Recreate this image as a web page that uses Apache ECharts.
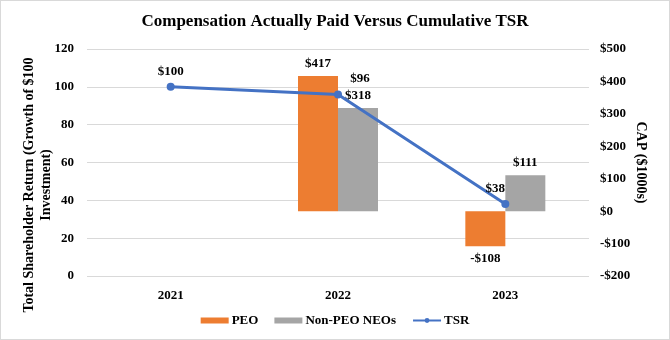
<!DOCTYPE html>
<html><head><meta charset="utf-8">
<script src="https://cdn.jsdelivr.net/npm/echarts@6/dist/echarts.min.js"></script>
<style>html,body{margin:0;padding:0;background:#fff}#c{width:670px;height:340px;box-sizing:border-box;border:1px solid #d9d9d9}</style>
</head><body><div id="c"></div>
<script>
const categories = ['2021', '2022', '2023'];
const peo = [null, 417, -108];
const nonPeo = [null, 318, 111];
const tsr = [100, 96, 38];
const leftTicks = {min: 0, max: 120, interval: 20};
const rightTicks = {min: -200, max: 500, interval: 100};

const F = '"Liberation Serif", "Times New Roman", serif';
const money = v => (v < 0 ? '-$' + Math.abs(v) : '$' + v);
const tsrOffsets = [[0, 0], [22, 0], [-10, 0]];

const barData = arr => arr.map(v => v == null ? null : ({
  value: v,
  label: {position: v < 0 ? 'bottom' : 'top'}
}));

const chart = echarts.init(document.getElementById('c'));
chart.setOption({
  animation: false,
  textStyle: {fontFamily: F},
  title: {
    text: 'Compensation Actually Paid Versus Cumulative TSR',
    left: 'center', top: 7,
    textStyle: {fontFamily: F, fontSize: 17, fontWeight: 'bold', color: '#000'}
  },
  graphic: [{
    type: 'text', x: 37, y: 184, rotation: Math.PI / 2, silent: true,
    style: {
      text: 'Total Shareholder Return (Growth of $100\nInvestment)',
      font: 'bold 14px ' + F, fill: '#000', lineHeight: 17,
      align: 'center', verticalAlign: 'middle'
    }
  }],
  legend: {
    bottom: 7, left: 'center',
    itemWidth: 28, itemHeight: 6, itemGap: 16,
    textStyle: {fontFamily: F, fontSize: 13, fontWeight: 'bold', color: '#000', padding: [0, 0, 0, -2]},
    data: [
      {name: 'PEO', icon: 'rect'},
      {name: 'Non-PEO NEOs', icon: 'rect'},
      {name: 'TSR'}
    ]
  },
  grid: {left: 86, right: 80, top: 48, bottom: 63},
  xAxis: {
    type: 'category', data: categories,
    axisLine: {show: false}, axisTick: {show: false},
    axisLabel: {fontFamily: F, fontSize: 13, fontWeight: 'bold', color: '#000', margin: 13}
  },
  yAxis: [
    {
      type: 'value', min: leftTicks.min, max: leftTicks.max, interval: leftTicks.interval,
      axisLine: {show: false}, axisTick: {show: false},
      axisLabel: {fontFamily: F, fontSize: 13, fontWeight: 'bold', color: '#000', margin: 13},
      splitLine: {lineStyle: {color: '#d9d9d9', width: 1}}
    },
    {
      type: 'value', min: rightTicks.min, max: rightTicks.max, interval: rightTicks.interval,
      name: 'CAP ($1000s)',
      nameLocation: 'middle', nameGap: 45, nameRotate: -90, nameMoveOverlap: false,
      nameTextStyle: {fontFamily: F, fontSize: 14, fontWeight: 'bold', color: '#000'},
      axisLine: {show: false}, axisTick: {show: false},
      axisLabel: {fontFamily: F, fontSize: 13, fontWeight: 'bold', color: '#000', margin: 11, formatter: money},
      splitLine: {show: false}
    }
  ],
  series: [
    {
      name: 'PEO', type: 'bar', yAxisIndex: 1, data: barData(peo),
      barWidth: 40, barGap: '0%',
      itemStyle: {color: '#ED7D31'},
      label: {show: true, fontFamily: F, fontSize: 13, fontWeight: 'bold', color: '#000', distance: 6,
        formatter: p => money(p.value)}
    },
    {
      name: 'Non-PEO NEOs', type: 'bar', yAxisIndex: 1, data: barData(nonPeo),
      barWidth: 40, barGap: '0%',
      itemStyle: {color: '#A5A5A5'},
      label: {show: true, fontFamily: F, fontSize: 13, fontWeight: 'bold', color: '#000', distance: 6,
        formatter: p => money(p.value)}
    },
    {
      name: 'TSR', type: 'line', yAxisIndex: 0,
      data: tsr.map((v, i) => ({value: v, label: {offset: tsrOffsets[i]}})),
      symbol: 'circle', symbolSize: 8,
      lineStyle: {color: '#4472C4', width: 3},
      itemStyle: {color: '#4472C4'},
      label: {show: true, position: 'top', distance: 5, fontFamily: F, fontSize: 13, fontWeight: 'bold', color: '#000',
        formatter: p => money(p.value)},
      z: 5
    }
  ]
});
</script></body></html>
